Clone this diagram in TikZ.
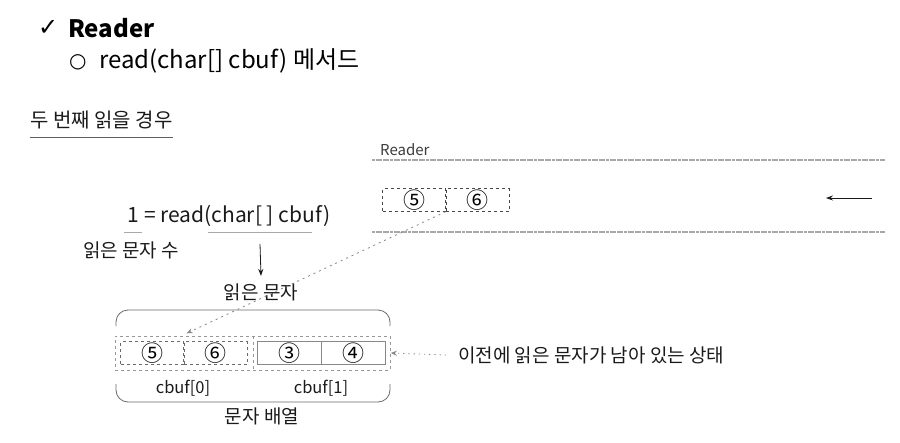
\documentclass[tikz,border=0pt]{standalone}
\usepackage{fontspec}
\setmainfont{Noto Sans CJK KR}
\newfontfamily\symfont{DejaVu Sans}
\usepackage{tikz}
\usetikzlibrary{arrows.meta,positioning,fit,calc}
\usepackage{xcolor}
\definecolor{streamgrey}{HTML}{A8A8A8}
\definecolor{boxgrey}{HTML}{6A6A6A}
\definecolor{inkblack}{HTML}{1A1A1A}
\tikzset{
  cell/.style={draw=boxgrey, dashed, minimum width=63pt, minimum height=23pt,
               inner sep=0pt, font=\fontsize{22}{22}\selectfont},
  solidcell/.style={cell, solid, draw=boxgrey!80},
  label/.style={font=\fontsize{19}{22}\selectfont, text=inkblack, inner sep=0pt},
  stream/.style={draw=streamgrey, line width=1.3pt, dash pattern=on 3pt off 0.6pt},
  flow/.style={-{Stealth[length=7pt,width=5pt]}, thick, draw=inkblack},
  hint/.style={-{Stealth[length=6pt,width=5pt]}, thick, draw=boxgrey!80, dash pattern=on 2pt off 4pt},
  bracket/.style={draw=boxgrey, thick, rounded corners=12pt},
}

\begin{document}
\begin{tikzpicture}[x=1pt, y=-1pt]
\useasboundingbox (0,0) rectangle (900,442);

% headings
\node[anchor=west, inner sep=0pt, font=\fontsize{24}{24}\selectfont] (tick) at (38,28) {\symfont ✓};
\node[anchor=west, inner sep=0pt, font=\fontsize{24}{28}\selectfont\bfseries] (title) at (68,28) {Reader};
\node[anchor=west, inner sep=0pt, font=\fontsize{20}{20}\selectfont] (dot) at (69,62) {\symfont ○};
\node[anchor=west, inner sep=0pt, font=\fontsize{24}{26}\selectfont] (method) at (99,61) {read(char[] cbuf) 메서드};
\node[anchor=west, label, font=\fontsize{20}{22}\selectfont] (case) at (30,120) {두 번째 읽을 경우};
\draw[inkblack!70, thick] (case.south west) ++(0,8) -- ($(case.south east)+(0,8)$);

% Reader stream
\node[anchor=west, inner sep=0pt, font=\fontsize{15}{16}\selectfont, text=inkblack!85] (reader) at (380,150) {Reader};
\coordinate (streamtopL) at (372,160);
\coordinate (streamtopR) at (885,160);
\coordinate (streambotL) at (372,232);
\coordinate (streambotR) at (885,232);
\draw[stream] (streamtopL) -- (streamtopR);
\draw[stream] (streambotL) -- (streambotR);
\node[cell, draw=inkblack!80] (top5) at (414,200) {⑤};
\node[cell, draw=inkblack!80, right=0pt of top5] (top6) {⑥};
\coordinate (flowstart) at (872,198);
\coordinate (flowend) at (826,198);
\draw[flow] (flowstart) -- (flowend);

% read call
\node[label, font=\fontsize{21}{24}\selectfont] (call) at (229,216) {1 = read(char[ ] cbuf)};
\draw[streamgrey, thick] (124,232) -- (142,232);
\draw[streamgrey, thick] (208,232) -- (312,232);
\node[label] (count) at (131,250) {읽은 문자 수};
\node[label] (readchars) at (261,292) {읽은 문자};
\coordinate (callbase) at (260,244);
\draw[flow] (callbase) -- (readchars.north |- 0,276);

% char array
\node[cell] (cell5) at (152,353) {⑤};
\node[cell, right=0pt of cell5] (cell6) {⑥};
\node[solidcell, minimum width=64pt] (cell3) at (289,353) {③};
\node[solidcell, minimum width=64pt, right=0pt of cell3] (cell4) {④};
\node[draw=boxgrey!70, dashed, fit=(cell5)(cell4), inner sep=5pt] (buffer) {};
\draw[boxgrey!70, dashed] (buffer.north -| 253,0) -- (buffer.south -| 253,0);
\node[label, font=\fontsize{16.5}{18}\selectfont] (cbuf0) at (183,388) {cbuf[0]};
\node[label, font=\fontsize{16.5}{18}\selectfont] (cbuf1) at (321,388) {cbuf[1]};
\draw[bracket] (116,326) -- (116,310) -- (390,310) -- (390,326);
\draw[bracket] (116,384) -- (116,402) -- (390,402) -- (390,384);
\node[label] (array) at (262,416) {문자 배열};

% hints
\draw[hint] (top5.south east) -- ($(cell5.north east)+(3,-8)$);
\node[label, anchor=west] (leftover) at (458,355) {이전에 읽은 문자가 남아 있는 상태};
\draw[hint, dash pattern=on 1.2pt off 4pt] (leftover.west) ++(-12,0) -- (buffer.east);
\end{tikzpicture}
\end{document}
